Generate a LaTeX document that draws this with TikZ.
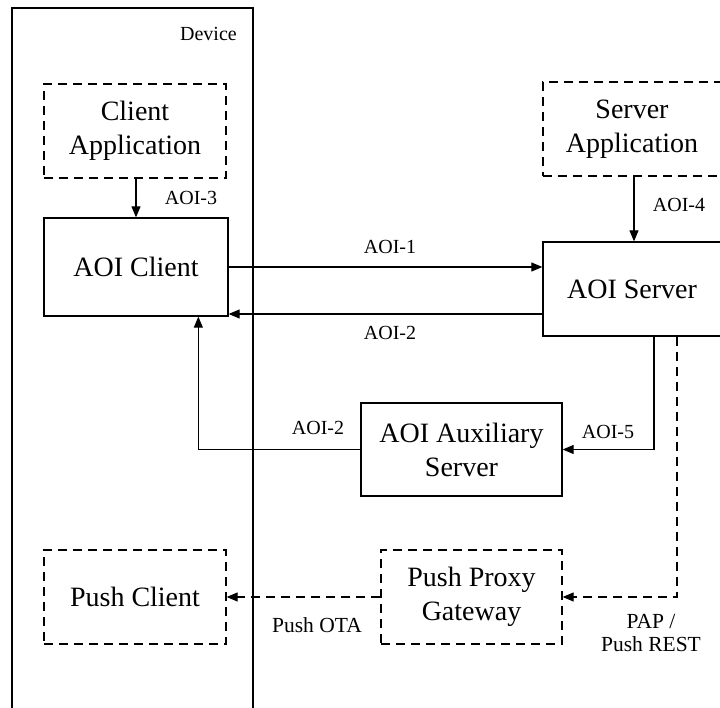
\documentclass[tikz,border=0pt]{standalone}
\usepackage{fontspec}
\setmainfont{Liberation Serif}
\usetikzlibrary{arrows.meta,calc}
\begin{document}
\begin{tikzpicture}[x=1pt,y=-1pt,
  box/.style={draw,line width=1.3pt,minimum width=#1,minimum height=94pt,inner sep=0pt,align=center,
    font=\fontsize{28}{34}\selectfont},
  dbox/.style={box=#1,dash pattern=on 9pt off 6pt},
  lbl/.style={font=\fontsize{20}{30}\selectfont,inner sep=0pt,align=center},
  blbl/.style={font=\fontsize{21.5}{23}\selectfont,inner sep=0pt,align=center},
  conn/.style={line width=1.1pt,-{Triangle[length=11pt,width=9pt]}},
  dconn/.style={conn,dash pattern=on 9pt off 6pt}]
\useasboundingbox (0,0) rectangle (720,708);
\clip (0,0) rectangle (720,708);
% device frame
\draw[line width=1.1pt] (12,720) -- (12,8) -- (253,8) -- (253,720);
\node[lbl,anchor=east] (device) at (237,34) {Device};
% nodes
\node[dbox=182pt] (clientapp) at (135,131) {Client\\Application};
\node[box=184pt,minimum height=98pt] (aoiclient) at (136,267) {AOI Client};
\node[dbox=178pt] (serverapp) at (632,129) {Server\\Application};
\node[box=178pt] (aoiserver) at (632,289) {AOI Server};
\node[box=201pt,minimum height=93pt] (aux) at (461.5,449.5) {AOI Auxiliary\\Server};
\node[dbox=181pt] (ppg) at (471.5,597) {Push Proxy\\Gateway};
\node[dbox=182pt] (pushclient) at (135,597) {Push Client};
% helper coordinates
\coordinate (s2) at ($(aoiserver.west)+(0,25)$);
\coordinate (c2) at (s2 -| aoiclient.east);
\coordinate (cup) at ($(aoiclient.south west)+(155,0)$);
\coordinate (s5) at ($(aoiserver.south)+(22,0)$);
\coordinate (sp) at ($(aoiserver.south)+(45,0)$);
\coordinate (sa) at ($(serverapp.south)+(2,0)$);
\coordinate (sb) at ($(aoiserver.north)+(2,0)$);
% connectors
\draw[conn] (clientapp.south -| aoiclient.north) -- (aoiclient.north);
\draw[conn] (sa) -- (sb);
\draw[conn] (aoiclient.east) -- (aoiclient.east -| aoiserver.west);
\draw[conn] (s2) -- (c2);
\draw[conn] (aux.west) -| (cup);
\draw[conn] (s5) |- (aux.east);
\draw[dconn] (sp) |- (ppg.east);
\draw[dconn] (ppg.west) -- (pushclient.east);
% labels
\node[lbl] (l3) at (191,198) {AOI-3};
\node[lbl] (l4) at (679,205) {AOI-4};
\node[lbl] (l1) at (390,247) {AOI-1};
\node[lbl] (l2a) at (390,333) {AOI-2};
\node[lbl] (l2b) at (318,428) {AOI-2};
\node[lbl] (l5) at (608,432) {AOI-5};
\node[blbl] (lota) at (317,625) {Push OTA};
\node[blbl] (lpap) at (651,633) {PAP /\\Push REST};
\end{tikzpicture}
\end{document}
